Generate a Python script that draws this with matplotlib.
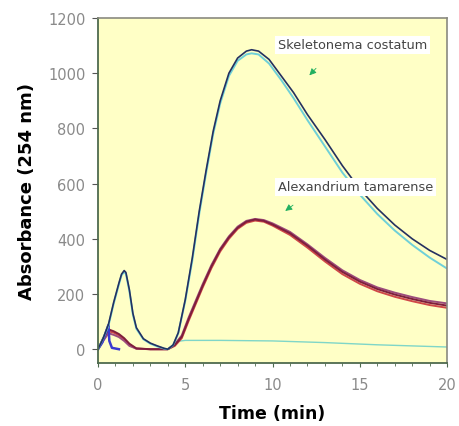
import numpy
import matplotlib
matplotlib.use("Agg")
import matplotlib.pyplot as pyplot

# --- Data ---
skelTime = [0, 0.3, 0.6, 0.9, 1.2, 1.35, 1.5, 1.6, 1.8, 2.0, 2.2, 2.6, 3.0, 3.4, 3.8, 4.0,
            4.3, 4.6, 5.0, 5.4, 5.8, 6.2, 6.6, 7.0, 7.5, 8.0, 8.5, 8.8, 9.2, 9.8, 10.5,
            11.2, 12.0, 13.0, 14.0, 15.0, 16.0, 17.0, 18.0, 19.0, 20.0]
skelDark = [0, 40, 90, 170, 240, 272, 285, 278, 215, 130, 78, 38, 22, 12, 3, 0,
            15, 60, 180, 330, 500, 650, 790, 900, 1000, 1055, 1080, 1085, 1080, 1050, 990,
            930, 850, 760, 665, 580, 510, 450, 400, 358, 325]
skelCyan = [0, 40, 85, 165, 235, 268, 280, 273, 210, 125, 74, 36, 20, 10, 2, 0,
            14, 58, 175, 320, 490, 640, 780, 890, 990, 1045, 1068, 1072, 1068, 1035, 975,
            910, 830, 735, 640, 560, 490, 430, 378, 332, 292]

alexTime = [0, 0.3, 0.6, 0.9, 1.2, 1.5, 1.8, 2.2, 3.0, 4.0, 4.4, 4.8, 5.2, 5.6, 6.0, 6.5,
            7.0, 7.5, 8.0, 8.5, 9.0, 9.5, 10.0, 11.0, 12.0, 13.0, 14.0, 15.0, 16.0, 17.0,
            18.0, 19.0, 20.0]
alexA = [0, 40, 72, 65, 55, 40, 20, 3, 0, 0, 15, 45, 110, 170, 230, 300,
         360, 405, 440, 462, 470, 465, 452, 420, 375, 325, 280, 245, 218, 198,
         182, 168, 158]
alexB = [0, 35, 65, 60, 50, 35, 16, 2, 0, 0, 12, 40, 104, 164, 224, 294,
         354, 400, 436, 458, 466, 462, 448, 414, 368, 318, 272, 237, 210, 190,
         174, 160, 150]
alexC = [0, 30, 58, 52, 44, 30, 12, 2, 0, 0, 18, 50, 116, 176, 236, 305,
         364, 409, 444, 465, 472, 468, 456, 425, 380, 331, 286, 251, 224, 205,
         189, 175, 166]

spikeTime = [0, 0.25, 0.5, 0.6, 0.65, 0.8, 1.2]
spikeValue = [0, 25, 70, 88, 30, 5, 0]

baseTime = [4.0, 4.5, 5.0, 7.0, 10.0, 13.0, 16.0, 20.0]
baseValue = [0, 28, 32, 32, 30, 24, 16, 8]

yTicks = [0, 200, 400, 600, 800, 1000, 1200]
xTicks = [0, 5, 10, 15, 20]

# --- Figure ---
figure = pyplot.figure(figsize=(4.6, 4.27), dpi=100)
axis = figure.add_axes([0.213, 0.1475, 0.759, 0.808])
axis.set_facecolor("#FFFFC6")

axis.plot(baseTime, baseValue, color="#7FD6C8", linewidth=1.0)
axis.plot(alexTime, alexB, color="#D04848", linewidth=1.4)
axis.plot(alexTime, alexC, color="#9C4C7C", linewidth=1.4)
axis.plot(alexTime, alexA, color="#7E1E3C", linewidth=1.4)
axis.plot(spikeTime, spikeValue, color="#3A3AD0", linewidth=1.8)
axis.plot(skelTime, skelCyan, color="#6FD0D8", linewidth=1.4)
axis.plot(skelTime, skelDark, color="#243060", linewidth=1.2)

axis.set_xlim(0, 20)
axis.set_ylim(-50, 1200)
axis.set_xticks(xTicks)
axis.set_xticks(numpy.arange(0, 21, 1), minor=True)
axis.set_yticks(yTicks)

axis.tick_params(axis="x", which="both", direction="out", colors="#4E6A4E",
                 labelsize=10.5, labelcolor="#8A8A8A", pad=7)
axis.tick_params(axis="x", which="major", length=3)
axis.tick_params(axis="x", which="minor", length=2)
axis.tick_params(axis="y", direction="out", length=4, colors="#555555",
                 labelsize=10.5, labelcolor="#8A8A8A", pad=5)

for side in ["left", "bottom"]:
    axis.spines[side].set_color("#4E6A4E")
    axis.spines[side].set_linewidth(1.3)
for side in ["top", "right"]:
    axis.spines[side].set_color("#8A8A80")
    axis.spines[side].set_linewidth(1.2)

axis.set_xlabel("Time (min)", fontsize=12.5, fontweight="bold", labelpad=9)
axis.set_ylabel("Absorbance (254 nm)", fontsize=13, fontweight="bold", labelpad=9)

boxStyle = dict(boxstyle="square,pad=0.2", facecolor="white", edgecolor="none")
axis.text(10.3, 1103, "Skeletonema costatum", fontsize=9.3, color="#444444",
          ha="left", va="center", bbox=boxStyle)
axis.text(10.3, 588, "Alexandrium tamarense", fontsize=9.3, color="#444444",
          ha="left", va="center", bbox=boxStyle)

arrowStyle = dict(arrowstyle="-|>", color="#22B060", lw=0.6, mutation_scale=10)
axis.annotate("", xy=(12.0, 985), xytext=(12.6, 1025), arrowprops=arrowStyle)
axis.annotate("", xy=(10.6, 495), xytext=(11.3, 528), arrowprops=arrowStyle)

figure.savefig("out.png", dpi=100)
